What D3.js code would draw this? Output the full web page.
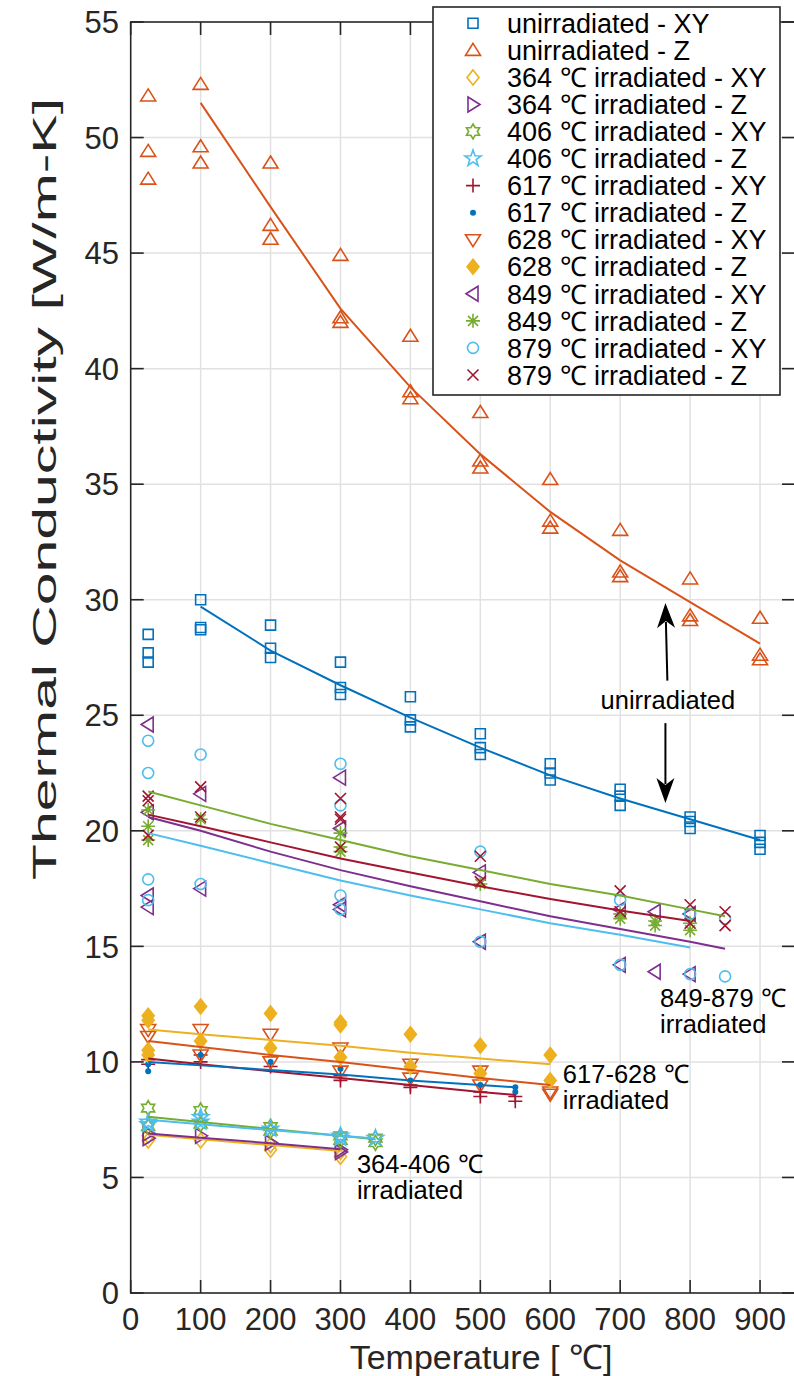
<!DOCTYPE html>
<html><head><meta charset="utf-8">
<script src="https://cdn.jsdelivr.net/npm/d3@7"></script>
<style>
html,body{margin:0;padding:0;background:#fff;}
svg{display:block;font-family:"Liberation Sans",Arial,Helvetica,sans-serif;}
</style></head>
<body><svg id="c" width="794" height="1376"></svg>
<script>
// ---------------- data ----------------
const xTicks = [0,100,200,300,400,500,600,700,800,900];
const yTicks = [0,5,10,15,20,25,30,35,40,45,50,55];

const seriesLabels = [
  "unirradiated - XY","unirradiated - Z",
  "364 ℃ irradiated - XY","364 ℃ irradiated - Z",
  "406 ℃ irradiated - XY","406 ℃ irradiated - Z",
  "617 ℃ irradiated - XY","617 ℃ irradiated - Z",
  "628 ℃ irradiated - XY","628 ℃ irradiated - Z",
  "849 ℃ irradiated - XY","849 ℃ irradiated - Z",
  "879 ℃ irradiated - XY","879 ℃ irradiated - Z"];

// measured points [temperature, conductivity]
const unirrXY = [[25,28.5],[25,27.7],[25,27.3],[100,30.0],[100,28.8],[100,28.7],[200,28.9],[200,27.9],[200,27.5],
  [300,27.3],[300,26.2],[300,25.9],[400,25.8],[400,24.8],[400,24.5],[500,24.2],[500,23.6],[500,23.3],
  [600,22.9],[600,22.5],[600,22.2],[700,21.8],[700,21.5],[700,21.1],[800,20.6],[800,20.4],[800,20.1],
  [900,19.8],[900,19.5],[900,19.2]];
const unirrZ = [[25,51.8],[25,49.4],[25,48.2],[100,52.3],[100,49.6],[100,48.9],[200,48.9],[200,46.2],[200,45.6],
  [300,44.9],[300,42.2],[300,42.0],[400,41.4],[400,39.0],[400,38.7],[500,38.1],[500,36.0],[500,35.7],
  [600,35.2],[600,33.4],[600,33.1],[700,33.0],[700,31.2],[700,31.0],[800,30.9],[800,29.3],[800,29.1],
  [900,29.2],[900,27.6],[900,27.4]];
const irr364XY = [[25,6.8],[25,6.6],[100,6.6],[200,6.2],[200,6.4],[300,5.9],[300,6.1]];
const irr364Z = [[25,6.9],[25,6.7],[100,6.8],[200,6.5],[300,6.2],[300,6.1]];
const irr406XY = [[25,8.0],[25,7.2],[100,7.9],[100,7.3],[200,7.2],[200,7.0],[300,6.8],[300,6.6],[350,6.7],[350,6.5]];
const irr406Z = [[25,7.4],[25,7.3],[100,7.6],[100,7.4],[200,7.1],[300,6.8],[300,6.7],[350,6.7]];
const irr617XY = [[25,10.1],[25,9.9],[100,10.3],[100,10.0],[200,9.8],[300,9.4],[300,9.2],[400,9.0],[400,8.9],
  [500,8.7],[500,8.5],[550,8.5],[550,8.3]];
const irr617Z = [[25,9.6],[25,9.9],[100,10.3],[200,10.0],[300,9.7],[400,9.2],[500,9.0],[550,8.9],[550,8.7]];
const irr628XY = [[25,11.4],[25,11.1],[100,11.4],[100,10.3],[200,11.2],[200,10.0],[300,10.6],[300,9.6],
  [400,9.9],[400,9.3],[500,9.6],[500,9.0],[600,8.7],[600,8.6]];
const irr628Z = [[25,12.0],[25,11.8],[25,10.5],[25,10.3],[100,12.4],[100,10.9],[200,12.1],[200,10.6],
  [300,11.7],[300,11.6],[300,10.2],[400,11.2],[400,9.8],[500,10.7],[500,9.5],[600,10.3],[600,9.2]];
const irr849XY = [[25,24.6],[25,20.8],[25,17.2],[25,16.7],[100,21.6],[100,17.5],[300,22.3],[300,20.1],
  [300,16.8],[300,16.6],[500,18.2],[500,15.2],[700,16.6],[700,14.2],[750,16.5],[750,13.9],[800,16.4],[800,13.8]];
const irr849Z = [[25,20.9],[25,20.2],[25,19.6],[100,20.5],[300,19.9],[300,19.3],[300,19.1],[500,17.7],
  [700,16.4],[700,16.2],[750,16.1],[750,15.9],[800,16.0],[800,15.7]];
const irr879XY = [[25,23.9],[25,22.5],[25,17.9],[25,17.0],[100,23.3],[100,17.7],[300,22.9],[300,21.1],
  [300,17.2],[300,16.6],[500,19.1],[500,15.2],[700,17.0],[700,14.2],[800,16.4],[800,13.8],[850,16.2],[850,13.7]];
const irr879Z = [[25,21.5],[25,21.3],[25,19.8],[100,21.9],[100,20.6],[300,21.4],[300,20.6],[300,20.5],
  [300,19.3],[500,18.9],[500,17.8],[700,17.4],[700,16.5],[800,16.8],[800,16.0],[850,16.5],[850,15.9]];

// fitted curves [temperature, conductivity]
const unirrXYFit = [[100,29.7],[200,27.8],[300,26.3],[400,24.9],[500,23.6],[600,22.4],[700,21.4],[800,20.5],[900,19.6]];
const unirrZFit = [[100,51.5],[200,47.0],[300,42.6],[400,39.2],[500,36.3],[600,33.8],[700,31.7],[800,29.9],[900,28.1]];
const irr364XYFit = [[25,6.85],[100,6.65],[200,6.4],[300,6.15]];
const irr364ZFit = [[25,6.9],[100,6.72],[200,6.48],[300,6.22]];
const irr406XYFit = [[25,7.63],[100,7.4],[200,7.1],[300,6.8],[350,6.65]];
const irr406ZFit = [[25,7.5],[100,7.3],[200,7.05],[300,6.8],[350,6.69]];
const irr617XYFit = [[25,10.15],[100,9.9],[200,9.6],[300,9.3],[400,9.0],[500,8.7],[550,8.57]];
const irr617ZFit = [[25,10.0],[100,9.85],[200,9.65],[300,9.45],[400,9.2],[500,9.0],[550,8.9]];
const irr628XYFit = [[25,10.9],[100,10.65],[200,10.3],[300,10.0],[400,9.65],[500,9.3],[600,9.0]];
const irr628ZFit = [[25,11.4],[100,11.2],[200,10.95],[300,10.7],[400,10.4],[500,10.15],[600,9.9]];
const irr849XYFit = [[25,20.6],[100,20.0],[200,19.1],[300,18.3],[400,17.6],[500,16.95],[600,16.3],[700,15.75],[800,15.2],[850,14.9]];
const irr849ZFit = [[25,21.7],[100,21.1],[200,20.3],[300,19.6],[400,18.9],[500,18.3],[600,17.7],[700,17.2],[800,16.6],[850,16.3]];
const irr879XYFit = [[25,19.9],[100,19.35],[200,18.6],[300,17.85],[400,17.2],[500,16.6],[600,16.0],[700,15.5],[800,14.95]];
const irr879ZFit = [[25,20.7],[100,20.2],[200,19.5],[300,18.8],[400,18.2],[500,17.6],[600,17.05],[700,16.55],[800,16.1]];

const seriesData = [unirrXY,unirrZ,irr364XY,irr364Z,irr406XY,irr406Z,irr617XY,irr617Z,irr628XY,irr628Z,irr849XY,irr849Z,irr879XY,irr879Z];
const seriesFits = [unirrXYFit,unirrZFit,irr364XYFit,irr364ZFit,irr406XYFit,irr406ZFit,irr617XYFit,irr617ZFit,irr628XYFit,irr628ZFit,irr849XYFit,irr849ZFit,irr879XYFit,irr879ZFit];

// annotations [label lines], anchor in data coords
const groupNotes = [
  {lines:["849-879 ℃","irradiated"], t:757, k:12.38},
  {lines:["617-628 ℃","irradiated"], t:618, k:9.1},
  {lines:["364-406 ℃","irradiated"], t:323.5, k:5.18}
];

// ---------------- styles ----------------
const C = {blue:"#0072BD",orange:"#D95319",yellow:"#EDB120",purple:"#7E2F8E",green:"#77AC30",cyan:"#4DBEEE",red:"#A2142F"};
const seriesStyle = [
  {c:C.blue,m:"square"},{c:C.orange,m:"triUp"},
  {c:C.yellow,m:"diamond"},{c:C.purple,m:"triRight"},
  {c:C.green,m:"hexagram"},{c:C.cyan,m:"pentagram"},
  {c:C.red,m:"plus"},{c:C.blue,m:"dot"},
  {c:C.orange,m:"triDown"},{c:C.yellow,m:"diamondFilled"},
  {c:C.purple,m:"triLeft"},{c:C.green,m:"asterisk"},
  {c:C.cyan,m:"circle"},{c:C.red,m:"x"}];

function star(n, R, r){
  let p = [];
  for(let i=0;i<2*n;i++){
    const a = -Math.PI/2 + i*Math.PI/n;
    const rad = i%2===0?R:r;
    p.push([rad*Math.cos(a), rad*Math.sin(a)]);
  }
  return "M"+p.map(q=>q[0].toFixed(2)+","+q[1].toFixed(2)).join("L")+"Z";
}
const markerPaths = {
  square:"M-5,-5H5V5H-5Z",
  triUp:"M0,-7L7.5,5L-7.5,5Z",
  triDown:"M0,7L7.5,-5L-7.5,-5Z",
  triRight:"M7,0L-5,-7.5L-5,7.5Z",
  triLeft:"M-7,0L5,-7.5L5,7.5Z",
  diamond:"M0,-7.5L6,0L0,7.5L-6,0Z",
  diamondFilled:"M0,-7.5L6,0L0,7.5L-6,0Z",
  hexagram:star(6,7.5,4.33),
  pentagram:star(5,8.5,3.4),
  plus:"M-7,0H7M0,-7V7",
  asterisk:"M-7,0H7M0,-7V7M-5,-5L5,5M-5,5L5,-5",
  x:"M-5.5,-5.5L5.5,5.5M-5.5,5.5L5.5,-5.5"
};

// ---------------- layout ----------------
const svg = d3.select("#c");
const x = d3.scaleLinear().domain([0,950]).range([130.7,795]);
const y = d3.scaleLinear().domain([0,55]).range([1293,22]);
const axisColor = "#262626";
const fontTick = 31;

// grid
const grid = svg.append("g");
grid.selectAll(".gx").data(xTicks.filter(d=>d>0)).join("line")
  .attr("x1",d=>x(d)).attr("x2",d=>x(d)).attr("y1",y(0)).attr("y2",y(55))
  .attr("stroke","#e1e1e1").attr("stroke-width",1.5);
grid.selectAll(".gy").data(yTicks.filter(d=>d>0&&d<55)).join("line")
  .attr("y1",d=>y(d)).attr("y2",d=>y(d)).attr("x1",x(0)).attr("x2",x(950))
  .attr("stroke","#e1e1e1").attr("stroke-width",1.5);

// markers
function drawMarker(g, style, px, py){
  const m = style.m;
  if(m==="dot"){
    g.append("circle").attr("cx",px).attr("cy",py).attr("r",3).attr("fill",style.c);
  } else if(m==="circle"){
    g.append("circle").attr("cx",px).attr("cy",py).attr("r",5.5).attr("fill","none").attr("stroke",style.c).attr("stroke-width",1.6);
  } else {
    g.append("path").attr("d",markerPaths[m]).attr("transform",`translate(${px},${py})`)
      .attr("fill", m==="diamondFilled"?style.c:"none")
      .attr("stroke",style.c).attr("stroke-width",1.6).attr("stroke-linejoin","miter");
  }
}
const marks = svg.append("g");
seriesData.forEach((arr,i)=>{
  const g = marks.append("g");
  arr.forEach(d=>drawMarker(g, seriesStyle[i], x(d[0]), y(d[1])));
});

// fit lines
const line = d3.line().x(d=>x(d[0])).y(d=>y(d[1]));
const fits = svg.append("g");
seriesFits.forEach((arr,i)=>{
  fits.append("path").attr("d",line(arr)).attr("fill","none")
    .attr("stroke",seriesStyle[i].c).attr("stroke-width",2);
});

// axes frame and ticks (inward, mirrored)
const ax = svg.append("g").attr("stroke",axisColor).attr("stroke-width",1.6);
ax.append("rect").attr("x",x(0)).attr("y",y(55)).attr("width",x(950)-x(0)).attr("height",y(0)-y(55)).attr("fill","none");
const tl = 13;
xTicks.forEach(t=>{
  ax.append("line").attr("x1",x(t)).attr("x2",x(t)).attr("y1",y(0)).attr("y2",y(0)-tl);
  ax.append("line").attr("x1",x(t)).attr("x2",x(t)).attr("y1",y(55)).attr("y2",y(55)+tl);
});
yTicks.forEach(v=>{
  ax.append("line").attr("y1",y(v)).attr("y2",y(v)).attr("x1",x(0)).attr("x2",x(0)+tl);
  ax.append("line").attr("y1",y(v)).attr("y2",y(v)).attr("x1",x(950)).attr("x2",x(950)-tl);
});

// tick labels
svg.append("g").selectAll("text").data(xTicks).join("text")
  .attr("x",d=>x(d)).attr("y",1330).attr("text-anchor","middle")
  .attr("font-size",fontTick).attr("fill",axisColor).text(d=>d);
svg.append("g").selectAll("text").data(yTicks).join("text")
  .attr("x",119).attr("y",d=>y(d)+fontTick*0.36).attr("text-anchor","end")
  .attr("font-size",fontTick).attr("fill",axisColor).text(d=>d);

// axis titles
svg.append("text").attr("x",481).attr("y",1369).attr("text-anchor","middle")
  .attr("font-size",34).attr("fill",axisColor).text("Temperature [ ℃]");
svg.append("text").attr("transform","translate(56,489) rotate(-90)").attr("text-anchor","middle")
  .attr("font-size",34).attr("fill",axisColor)
  .attr("textLength",782).attr("lengthAdjust","spacingAndGlyphs")
  .text("Thermal Conductivity [W/m-K]");

// group annotations
const notes = svg.append("g").attr("font-size",25.5).attr("fill","#000");
groupNotes.forEach(n=>{
  n.lines.forEach((s,j)=>{
    notes.append("text").attr("x",x(n.t)).attr("y",y(n.k)+j*26).text(s);
  });
});
notes.append("text").attr("x",x(671.9)).attr("y",y(25.27)).text("unirradiated");

// arrows
function arrow(t0,k0,t1,k1){
  const x0=x(t0),y0=y(k0),x1=x(t1),y1=y(k1);
  const ang = Math.atan2(y1-y0,x1-x0)*180/Math.PI;
  const L = 25;
  const len = Math.hypot(x1-x0,y1-y0);
  const g = svg.append("g").attr("transform",`translate(${x1},${y1}) rotate(${ang})`);
  g.append("line").attr("x1",-len).attr("y1",0).attr("x2",-L+6).attr("y2",0).attr("stroke","#000").attr("stroke-width",2);
  g.append("path").attr("d",`M0,0L${-L},-9L${-L+7},0L${-L},9Z`).attr("fill","#000");
}
arrow(767.5,26.5,764.7,29.86);
arrow(764.7,24.66,764.7,21.2);

// legend
const lg = svg.append("g");
lg.append("rect").attr("x",433).attr("y",7).attr("width",347).attr("height",388)
  .attr("fill","#fff").attr("stroke",axisColor).attr("stroke-width",1.6);
seriesLabels.forEach((lab,i)=>{
  const cy = 23.3 + i*27.05;
  drawMarker(lg, seriesStyle[i], 473, cy);
  lg.append("text").attr("x",507).attr("y",cy+27*0.36).attr("font-size",27).attr("fill","#000").text(lab);
});
</script></body></html>
